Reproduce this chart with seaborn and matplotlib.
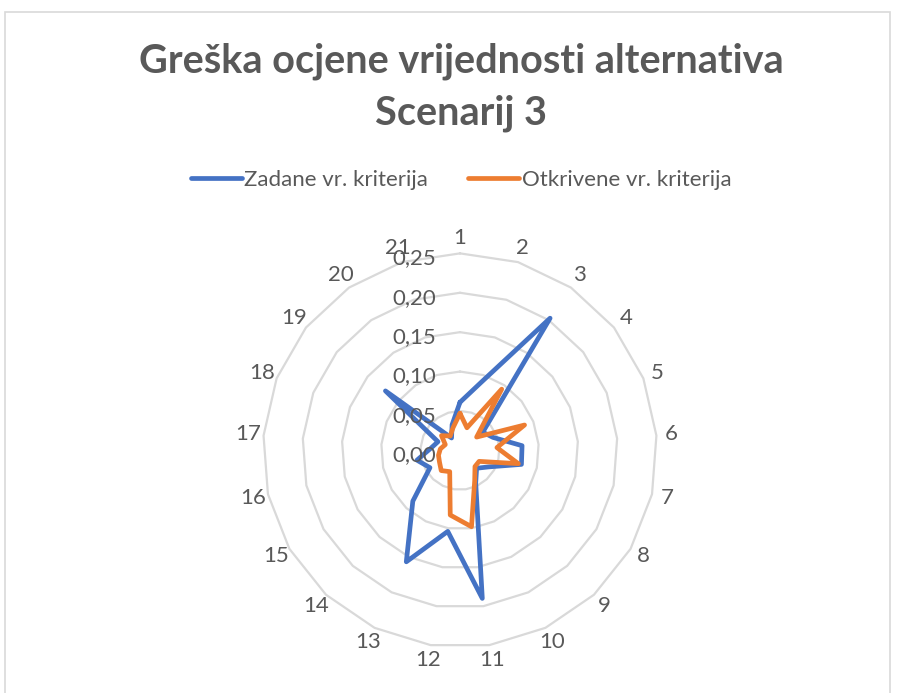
import numpy as np
import pandas as pd
import matplotlib
matplotlib.use("Agg")
import matplotlib.pyplot as plt
import seaborn as sns
from matplotlib.patches import Rectangle

# Data
categories = [str(i) for i in range(1, 22)]
zadane = [0.061, 0.090, 0.203, 0.037, 0.045, 0.079, 0.080, 0.042, 0.031, 0.046, 0.190,
          0.104, 0.157, 0.088, 0.044, 0.056, 0.037, 0.030, 0.121, 0.019, 0.034]
otkrivene = [0.047, 0.030, 0.094, 0.027, 0.088, 0.047, 0.076, 0.028, 0.028, 0.043, 0.098,
             0.083, 0.030, 0.035, 0.030, 0.028, 0.025, 0.020, 0.030, 0.022, 0.030]
ring_values = [0.00, 0.05, 0.10, 0.15, 0.20, 0.25]
ring_labels = ["0,00", "0,05", "0,10", "0,15", "0,20", "0,25"]
series_names = ["Zadane vr. kriterija", "Otkrivene vr. kriterija"]
colors = ["#4472C4", "#ED7D31"]
text_color = "#595959"

sns.set_theme(style="white")
plt.rcParams['font.family'] = ['Lato', 'DejaVu Sans']

n = len(categories)
angles = np.linspace(0, 2 * np.pi, n, endpoint=False)
theta_closed = np.append(angles, 2 * np.pi)

# long table for seaborn
rows = []
for name, vals in zip(series_names, [zadane, otkrivene]):
    for t, v in zip(theta_closed, vals + vals[:1]):
        rows.append({"theta": t, "value": v, "serija": name})
df = pd.DataFrame(rows)

fig = plt.figure(figsize=(8.97, 6.93), dpi=100)
ax = fig.add_axes([0.2932, 0.0659, 0.4392, 0.5685], projection="polar")
ax.set_theta_offset(np.pi / 2)
ax.set_theta_direction(-1)

# polygon gridlines like Excel
for rv in ring_values[1:]:
    ax.plot(theta_closed, [rv] * (n + 1), color="#d9d9d9", lw=1.6, zorder=1, clip_on=False)

sns.lineplot(data=df, x="theta", y="value", hue="serija", hue_order=series_names,
             palette=colors, sort=False, estimator=None, lw=3.4, ax=ax, zorder=3)

ax.set_ylim(0, 0.25)
ax.set_yticks([])
ax.set_xticks(angles)
ax.set_xticklabels(categories)
ax.tick_params(axis='x', length=0, pad=4, labelsize=16, labelcolor=text_color)
ax.grid(False)
ax.spines['polar'].set_visible(False)
ax.set_xlabel("")
ax.set_ylabel("")

for rv, lab in zip(ring_values, ring_labels):
    ax.annotate(lab, xy=(0, rv), xytext=(-17, -3.5), textcoords='offset points',
                ha='right', va='center', color=text_color, fontsize=16)

sns.move_legend(ax, "center", bbox_to_anchor=(0.514, 0.740), bbox_transform=fig.transFigure,
                ncol=2, frameon=False, title=None, fontsize=16, handlelength=2.3,
                handletextpad=0.1, columnspacing=1.8)
for line in ax.get_legend().get_lines():
    line.set_linewidth(3.4)
for t in ax.get_legend().get_texts():
    t.set_color(text_color)

fig.text(0.514, 0.8735, "Greška ocjene vrijednosti alternativa\nScenarij 3",
         ha='center', va='center', fontsize=28.5, fontweight='bold', color=text_color,
         linespacing=1.48)

# chart area border
fig.patches.append(Rectangle((5 / 897, -0.01), 885 / 897, 1.01 - 12 / 693,
                             transform=fig.transFigure, fill=False,
                             edgecolor="#d9d9d9", lw=1.2))

fig.savefig("out.png", dpi=100)
